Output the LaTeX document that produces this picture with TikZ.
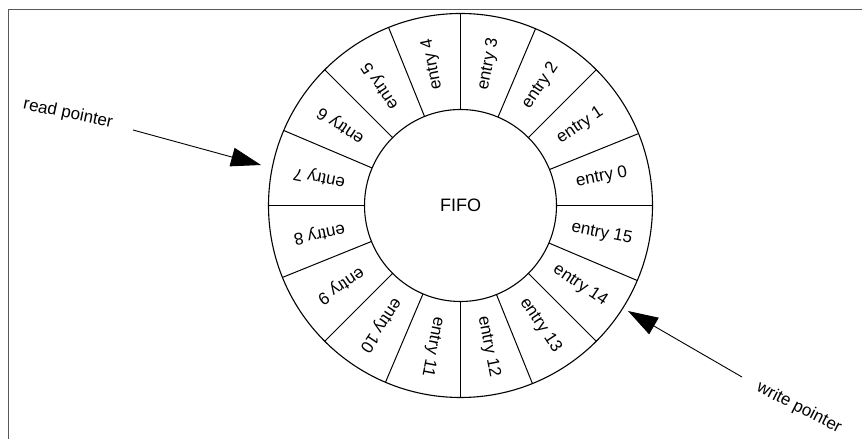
\documentclass[tikz,border=0pt]{standalone}
\usepackage{fontspec}
\setmainfont{Liberation Sans}
\usetikzlibrary{arrows.meta,calc}
\begin{document}
\begin{tikzpicture}[x=1pt,y=1pt,
  ring/.style={circle,draw,line width=1.1pt,inner sep=0pt,outer sep=0pt},
  divider/.style={line width=1pt},
  entrylabel/.style={font=\fontsize{17}{17}\selectfont,inner sep=0pt},
  ptrlabel/.style={font=\fontsize{17}{17}\selectfont,inner sep=0pt},
  ptrarrow/.style={line width=0.9pt,-{Triangle[length=30pt,width=19pt]}},
  frameline/.style={line width=1pt,draw=black!65}]
\useasboundingbox (0,0) rectangle (862,439);
\draw[frameline] (8,0) -- (8,429) -- (862,429);
\coordinate (c) at (460.5,233.5);
\node[ring,minimum size=384pt] (outer) at (c) {};
\node[ring,minimum size=192pt,font=\fontsize{18}{18}\selectfont] (inner) at (c) {FIFO};
\foreach \k in {0,...,15}{
  \pgfmathsetmacro\a{22.5*\k}
  \draw[divider] (inner.\a) -- (outer.\a);
  \pgfmathsetmacro\m{22.5*\k+11.25}
  \node[entrylabel,rotate=\m] (e\k) at ($(c)+(\m:144)$) {entry \k};
}
\coordinate (rtail) at (133,309);
\coordinate (rtip) at (261,274);
\draw[ptrarrow] (rtail) -- (rtip);
\node[ptrlabel,rotate=-12] (rlabel) at (68,325) {read pointer};
\coordinate (wtail) at (742,62);
\coordinate (wtip) at (628,128);
\draw[ptrarrow] (wtail) -- (wtip);
\node[ptrlabel,rotate=-27] (wlabel) at (799,31) {write pointer};
\end{tikzpicture}
\end{document}
